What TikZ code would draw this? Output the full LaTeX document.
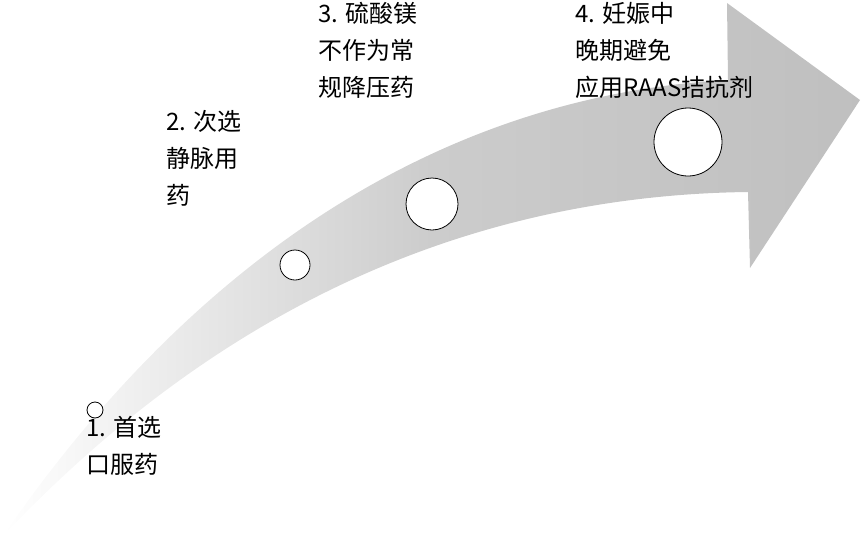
\documentclass[tikz,border=0pt]{standalone}
\usepackage{fontspec}
\newfontfamily\cjk{Noto Sans CJK SC}
\begin{document}
\begin{tikzpicture}[x=1pt,y=-1pt,
    stage/.style={circle,draw=black,thick,fill=white,inner sep=0pt},
    step label/.style={anchor=north west,align=left,font=\cjk\fontsize{24}{37}\selectfont,inner sep=0pt}]
  \useasboundingbox (0,0) rectangle (864,538);

  % Curved arrow
  \shade[left color=white,right color=black!25,middle color=black!20]
    (3,536) .. controls (200,250) and (450,95) .. (728,80) -- (727,3) -- (860,100)
    -- (750,268) -- (748,192) .. controls (500,195) and (240,285) .. (3,536) -- cycle;

  % Stages
  \node[stage,minimum size=16pt] (s1) at (95,410) {};
  \node[stage,minimum size=30pt] (s2) at (295,265) {};
  \node[stage,minimum size=52pt] (s3) at (432,204) {};
  \node[stage,minimum size=68pt] (s4) at (688,142) {};

  % Labels
  \node[step label] (l1) at (86,416) {1. 首选\\口服药};
  \node[step label] (l2) at (166,110) {2. 次选\\静脉用\\药};
  \node[step label] (l3) at (318,2) {3. 硫酸镁\\不作为常\\规降压药};
  \node[step label] (l4) at (575,2) {4. 妊娠中\\晚期避免\\应用RAAS拮抗剂};
\end{tikzpicture}
\end{document}
